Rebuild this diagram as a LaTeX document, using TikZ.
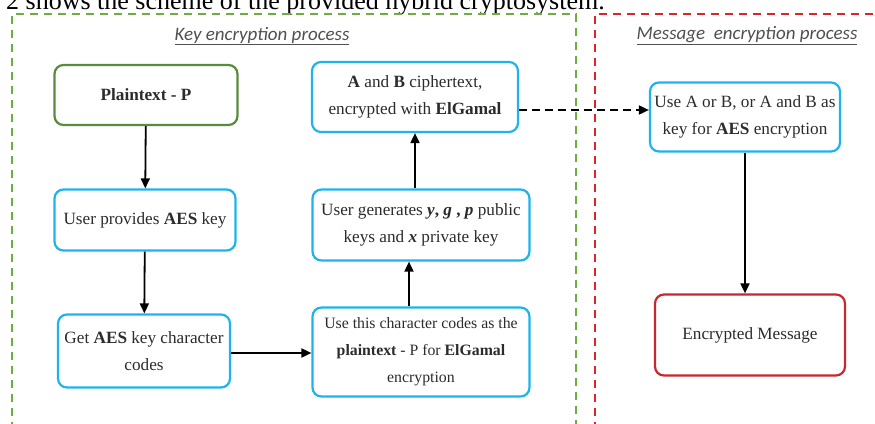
\documentclass[tikz,border=0pt]{standalone}
\usepackage{fontspec}
\setmainfont{Liberation Serif}
\newfontfamily\headfont{Carlito}
\usetikzlibrary{arrows.meta}
\definecolor{boxblue}{HTML}{1FB3EC}
\definecolor{boxgreen}{HTML}{5A8A3C}
\definecolor{boxred}{HTML}{C8282D}
\definecolor{lgreen}{HTML}{6DAE3E}
\definecolor{lred}{HTML}{D9262A}
\definecolor{txt}{HTML}{2B2B2B}
\definecolor{headtxt}{HTML}{505050}
\begin{document}
\begin{tikzpicture}[x=1pt,y=-1pt,
  box/.style={draw=boxblue, line width=2.2pt, rounded corners=9pt, align=center,
    inner sep=0pt, text=txt, font=\fontsize{17.2}{27}\selectfont},
  smallbox/.style={box, font=\fontsize{15.8}{27}\selectfont},
  head/.style={font=\headfont\itshape\fontsize{19}{19}\selectfont, text=headtxt, inner sep=0pt},
  arr/.style={-{Triangle[length=10pt,width=9pt]}, line width=1.8pt, black},
  frame/.style={line width=2pt, dash pattern=on 8pt off 6pt}
]
\useasboundingbox (0,0) rectangle (875,423);
\clip (0,0) rectangle (875,423);

\node[anchor=base west, inner sep=0pt, font=\fontsize{26}{26}\selectfont] (cap) at (6,9.5)
  {2 shows the scheme of the provided hybrid cryptosystem.};

\draw[frame, lgreen] (12,430) -- (12,14) -- (576,14) -- (576,430);
\draw[frame, lred] (595,430) -- (595,14) -- (880,14);

\node[head] (h1) at (262,36) {\underline{Key encryption process}};
\node[head] (h2) at (747,36) {\underline{Message\ \ encryption process}};

\node[box, draw=boxgreen, minimum width=183pt, minimum height=60pt] (n1) at (146,95) {\textbf{Plaintext - P}};
\node[box, minimum width=181pt, minimum height=61pt] (n2) at (145,220) {User provides \textbf{AES} key};
\node[box, minimum width=172pt, minimum height=73pt] (n3) at (144,351) {Get \textbf{AES} key character\\codes};
\node[smallbox, minimum width=217pt, minimum height=89pt] (n4) at (421,352) {Use this character codes as the\\\textbf{plaintext} - P for \textbf{ElGamal}\\encryption};
\node[box, minimum width=217pt, minimum height=71pt] (n5) at (421,225) {User generates \textbf{\textit{y}, \textit{g} , \textit{p}} public\\keys and \textbf{\textit{x}} private key};
\node[box, minimum width=206pt, minimum height=70pt] (n6) at (415,97) {\textbf{A} and \textbf{B} ciphertext,\\encrypted with \textbf{ElGamal}};
\node[box, minimum width=190pt, minimum height=69pt] (n7) at (745,117) {Use A or B, or A and B as\\key for \textbf{AES} encryption};
\node[box, draw=boxred, minimum width=190pt, minimum height=81pt] (n8) at (750,335) {Encrypted Message};

\draw[arr] (n1) -- (n2);
\draw[arr] (n2) -- (n3);
\draw[arr] (n3.east |- 0,353) -- (n4.west |- 0,353);
\draw[arr] ([xshift=-12pt]n4.north) -- ([xshift=-12pt]n4.north |- n5.south);
\draw[arr] ([xshift=-6pt]n5.north) -- ([xshift=-6pt]n5.north |- n6.south);
\draw[arr, dash pattern=on 8pt off 5pt] (n6.east |- 0,110) -- (n7.west |- 0,110);
\draw[arr] (n7) -- (n7 |- n8.north);
\end{tikzpicture}
\end{document}
